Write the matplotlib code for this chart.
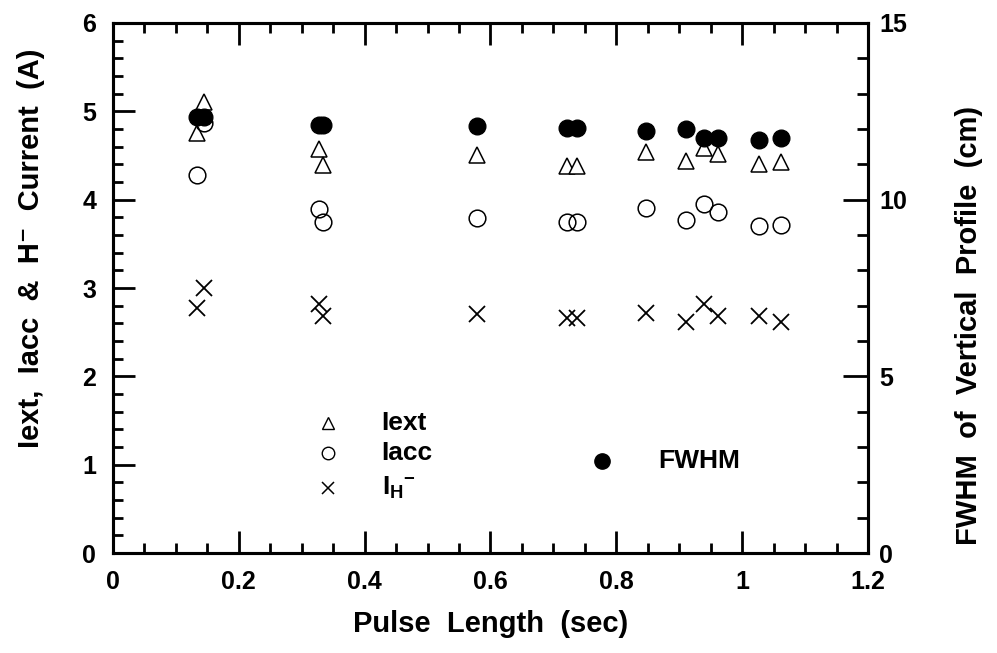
import numpy as np
import matplotlib.pyplot as plt
from matplotlib.ticker import MultipleLocator

plt.rcParams['font.family'] = ['Liberation Sans', 'DejaVu Sans']
plt.rcParams['font.weight'] = 'bold'
plt.rcParams['mathtext.fontset'] = 'custom'
plt.rcParams['mathtext.rm'] = 'Liberation Sans:bold'
plt.rcParams['mathtext.it'] = 'Liberation Sans:bold'
plt.rcParams['mathtext.bf'] = 'Liberation Sans:bold'

# pulse length in seconds
pulse_s = [0.134, 0.145, 0.328, 0.334, 0.579, 0.721, 0.737,
           0.847, 0.910, 0.940, 0.961, 1.027, 1.061]
# currents in amperes
i_ext = [4.76, 5.11, 4.57, 4.39, 4.51, 4.38, 4.38,
         4.54, 4.44, 4.59, 4.52, 4.40, 4.43]
i_acc = [4.28, 4.87, 3.89, 3.75, 3.79, 3.75, 3.75,
         3.90, 3.77, 3.95, 3.86, 3.70, 3.71]
i_hminus = [2.77, 3.00, 2.82, 2.68, 2.71, 2.66, 2.66,
            2.72, 2.62, 2.82, 2.68, 2.68, 2.62]
# FWHM of vertical beam profile in cm
fwhm_cm = [12.35, 12.35, 12.11, 12.11, 12.09, 12.02, 12.02,
           11.93, 12.0, 11.74, 11.74, 11.69, 11.74]

fig = plt.figure(figsize=(9.97, 6.53), dpi=100)
ax = fig.add_axes([0.1133, 0.1531, 0.7573, 0.8117])
ax2 = ax.twinx()

ax.plot(pulse_s, i_ext, linestyle='none', marker='^', ms=11, mfc='white',
        mec='black', mew=1.1, zorder=3)
ax.plot(pulse_s, i_acc, linestyle='none', marker='o', ms=12, mfc='none',
        mec='black', mew=1.1, zorder=3)
ax.plot(pulse_s, i_hminus, linestyle='none', marker='x', ms=12, mec='black',
        mew=1.3, zorder=3)
ax2.plot(pulse_s, fwhm_cm, linestyle='none', marker='o', ms=12, mfc='black',
         mec='black', zorder=2)

# hand-placed key
ax.plot([0.341], [1.47], marker='^', ms=9, mfc='white', mec='black', mew=1)
ax.plot([0.341], [1.13], marker='o', ms=9, mfc='none', mec='black', mew=1)
ax.plot([0.341], [0.74], marker='x', ms=9, mec='black', mew=1.1)
ax.text(0.427, 1.47, 'Iext', fontsize=19, va='center', fontweight='bold')
ax.text(0.427, 1.13, 'Iacc', fontsize=19, va='center', fontweight='bold')
ax.text(0.427, 0.74, r'I$_{H}$$^{-}$', fontsize=19, va='center')
ax.plot([0.777], [1.04], marker='o', ms=11, mfc='black', mec='black')
ax.text(0.866, 1.04, 'FWHM', fontsize=19, va='center', fontweight='bold')

ax.set_xlim(0, 1.2)
ax.set_ylim(0, 6)
ax2.set_ylim(0, 15)

ax.xaxis.set_major_locator(MultipleLocator(0.2))
ax.xaxis.set_minor_locator(MultipleLocator(0.05))
ax.yaxis.set_major_locator(MultipleLocator(1))
ax.yaxis.set_minor_locator(MultipleLocator(0.2))
ax2.yaxis.set_major_locator(MultipleLocator(5))
ax2.yaxis.set_minor_locator(MultipleLocator(1))
ax.set_xticks([0, 0.2, 0.4, 0.6, 0.8, 1.0, 1.2])
ax.set_xticklabels(['0', '0.2', '0.4', '0.6', '0.8', '1', '1.2'])

ax.tick_params(which='both', direction='in', top=True, right=False,
               labelsize=18, width=2)
ax.tick_params(which='major', length=16)
ax.tick_params(which='minor', length=7)
ax.tick_params(axis='x', which='major', pad=12)
ax.tick_params(axis='y', which='major', pad=12)
ax2.tick_params(which='both', direction='in', labelsize=18, width=2)
ax2.tick_params(which='major', length=18, pad=8)
ax2.tick_params(which='minor', length=8)

for a in (ax, ax2):
    for s in a.spines.values():
        s.set_linewidth(2.2)

ax.set_xlabel('Pulse  Length  (sec)', fontsize=21, fontweight='bold',
              labelpad=12)
ax.set_ylabel('Iext,  Iacc  &  H\u207b  Current  (A)', fontsize=21,
              fontweight='bold')
ax2.set_ylabel('FWHM  of  Vertical  Profile  (cm)', fontsize=21,
               fontweight='bold')
ax.yaxis.set_label_coords(-0.09, 0.575)
ax2.yaxis.set_label_coords(1.115, 0.43)

fig.savefig('out.png', dpi=100)
